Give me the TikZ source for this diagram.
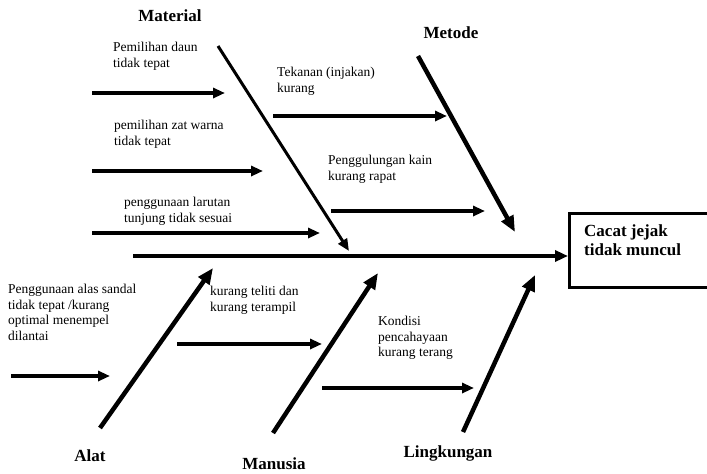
\documentclass[tikz,border=0pt]{standalone}
\usepackage{fontspec}
\setmainfont{Liberation Serif}
\usetikzlibrary{arrows.meta}

\begin{document}
\begin{tikzpicture}[x=1pt, y=-1pt,
 lbl/.style={anchor=north west, inner sep=0, align=left, font=\fontsize{13.5}{15.5}\selectfont},
 cat/.style={anchor=base, inner sep=0, font=\fontsize{17}{19}\selectfont\bfseries},
 sub/.style={line width=3.2pt, -{Triangle[length=12pt, width=10pt]}},
 bone/.style={line width=4.5pt, -{Triangle[length=16pt, width=13pt]}}]
\useasboundingbox (0,0) rectangle (707,474);
\clip (0,0) rectangle (707,474);

\node[draw, line width=2.8pt, anchor=north west, minimum width=170pt, minimum height=74pt, inner sep=0] (effect) at (568,212) {};
\node[lbl, font=\fontsize{17}{19}\selectfont\bfseries] (effecttxt) at (584,224.5) {Cacat jejak\\tidak muncul};
\coordinate (spine) at (133,256);
\draw[line width=4pt, -{Triangle[length=13pt, width=11pt]}] (spine) -- (spine -| effect.west);

\node[cat] (material) at (170,21) {Material};
\node[cat] (metode) at (451,38) {Metode};
\node[cat] (alat) at (90,461) {Alat};
\node[cat] (manusia) at (274,469) {Manusia};
\node[cat] (lingkungan) at (448,457) {Lingkungan};

\coordinate (matS) at (218,46);  \coordinate (matE) at (349,251);
\coordinate (metS) at (418,56);  \coordinate (metE) at (515,232);
\coordinate (alaS) at (100,428); \coordinate (alaE) at (213,268);
\coordinate (manS) at (273,433); \coordinate (manE) at (378,273);
\coordinate (linS) at (463,432); \coordinate (linE) at (535,275);
\draw[line width=3pt, -{Triangle[length=12pt, width=10pt]}] (matS) -- (matE);
\foreach \b in {met,ala,man,lin} {
 \draw[bone] (\b S) -- (\b E);
}

\foreach \i/\xa/\xb/\y in {1/92/225/93, 2/92/263/171, 3/92/320/233, 4/273/447/116,
 5/331/485/211, 6/11/110/376, 7/177/322/344, 8/322/474/388} {
 \coordinate (c\i s) at (\xa,\y);
 \coordinate (c\i e) at (\xb,\y);
 \draw[sub] (c\i s) -- (c\i e);
}

\node[lbl] (daun) at (113,42) {Pemilihan daun\\tidak tepat};
\node[lbl] (zat) at (114,120) {pemilihan zat warna\\tidak tepat};
\node[lbl] (larutan) at (124,197) {penggunaan larutan\\tunjung tidak sesuai};
\node[lbl] (tekanan) at (277,67) {Tekanan (injakan)\\kurang};
\node[lbl] (gulung) at (328,155) {Penggulungan kain\\kurang rapat};
\node[lbl] (sandal) at (8,284) {Penggunaan alas sandal\\tidak tepat /kurang\\optimal menempel\\dilantai};
\node[lbl] (teliti) at (210,286) {kurang teliti dan\\kurang terampil};
\node[lbl] (cahaya) at (378,316) {Kondisi\\pencahayaan\\kurang terang};
\end{tikzpicture}
\end{document}
